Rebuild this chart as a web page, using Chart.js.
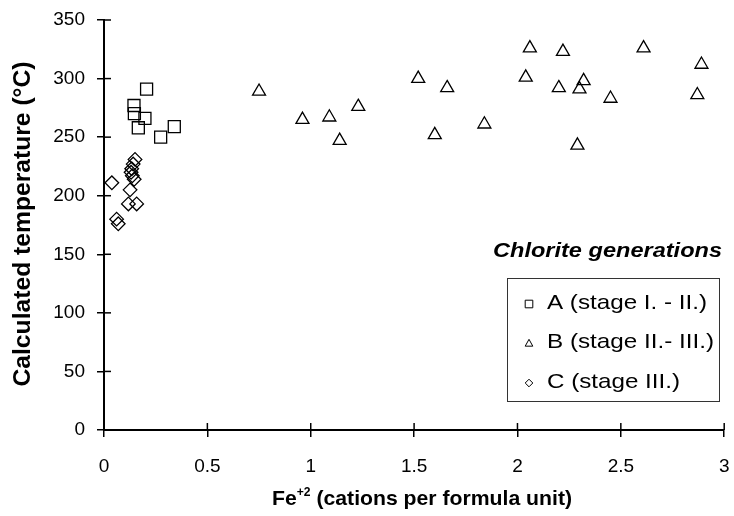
<!DOCTYPE html>
<html>
<head>
<meta charset="utf-8">
<script src="https://cdn.jsdelivr.net/npm/chart.js@4"></script>
<style>
  body { margin: 0; background: #fff; }
  #wrap { width: 734px; height: 516px; }
</style>
</head>
<body>
<div id="wrap"><canvas id="grafico" width="734" height="516"></canvas></div>
<script>
// values
const feA = [0.206, 0.145, 0.147, 0.198, 0.166, 0.274, 0.340];
const tempA = [291, 277, 270, 266, 258, 250, 259];

const feB = [0.75, 0.96, 1.09, 1.23, 1.14, 1.52, 1.66, 1.60, 1.84, 2.04,
             2.06, 2.20, 2.22, 2.29, 2.30, 2.32, 2.45, 2.61, 2.87, 2.89];
const tempB = [289, 265, 267, 276, 247, 300, 292, 252, 261, 301,
               326, 292, 323, 243, 291, 298, 283, 326, 286, 312];

const feC = [0.150, 0.141, 0.134, 0.131, 0.137, 0.146, 0.038, 0.126, 0.118, 0.158, 0.061, 0.069];
const tempC = [231, 227, 223, 220, 217, 214, 211, 205, 193, 193, 180, 176];

const seriesNames = ["A (stage I. - II.)", "B (stage II.- III.)", "C (stage III.)"];
const xTicks = [0, 0.5, 1, 1.5, 2, 2.5, 3];
const xLabels = ["0", "0.5", "1", "1.5", "2", "2.5", "3"];
const yTicks = [0, 50, 100, 150, 200, 250, 300, 350];

const FONT = "'Liberation Sans', Arial, sans-serif";

const pares = (xs, ys) => xs.map((x, i) => ({ x: x, y: ys[i] }));

// text drawn a bit wider, like the scanned original
function wideText(ctx, txt, x, y, font, width, align) {
  ctx.save();
  ctx.font = font;
  const sx = width / ctx.measureText(txt).width;
  ctx.translate(x, y);
  ctx.scale(sx, 1);
  ctx.textAlign = align;
  ctx.fillText(txt, 0, 0);
  ctx.restore();
}

function marca(ctx, tipo, x, y, r) {
  ctx.beginPath();
  if (tipo === "rect") {
    ctx.rect(x - r, y - r, 2 * r, 2 * r);
  } else if (tipo === "triangle") {
    ctx.moveTo(x, y - r * 1.1);
    ctx.lineTo(x + r, y + r * 0.7);
    ctx.lineTo(x - r, y + r * 0.7);
    ctx.closePath();
  } else {
    ctx.moveTo(x, y - r);
    ctx.lineTo(x + r, y);
    ctx.lineTo(x, y + r);
    ctx.lineTo(x - r, y);
    ctx.closePath();
  }
  ctx.stroke();
}

const sinPadding = s => { s.paddingLeft = 0; s.paddingRight = 0; s.paddingTop = 0; s.paddingBottom = 0; };

const extras = {
  id: "extras",
  afterDraw(chart) {
    const ctx = chart.ctx;
    const xs = chart.scales.x, ys = chart.scales.y;
    ctx.save();
    ctx.strokeStyle = "#000";
    ctx.fillStyle = "#000";
    ctx.lineWidth = 1.5;

    // tick marks cross the axes
    xTicks.forEach(v => {
      const px = xs.getPixelForValue(v);
      ctx.beginPath(); ctx.moveTo(px, ys.bottom); ctx.lineTo(px, ys.bottom - 7); ctx.stroke();
    });
    yTicks.forEach(v => {
      const py = ys.getPixelForValue(v);
      ctx.beginPath(); ctx.moveTo(xs.left, py); ctx.lineTo(xs.left + 7, py); ctx.stroke();
    });

    // y title
    ctx.save();
    ctx.translate(24, 224);
    ctx.rotate(-Math.PI / 2);
    ctx.textBaseline = "middle";
    wideText(ctx, "Calculated temperature (°C)", 0, 0, "bold 23px " + FONT, 325, "center");
    ctx.restore();

    // x title with superscript
    const big = "bold 21px " + FONT, small = "bold 12px " + FONT;
    const p1 = "Fe", p2 = "+2", p3 = " (cations per formula unit)";
    ctx.font = big; const w1 = ctx.measureText(p1).width, w3 = ctx.measureText(p3).width;
    ctx.font = small; const w2 = ctx.measureText(p2).width;
    const sx = 300 / (w1 + w2 + w3);
    ctx.save();
    ctx.translate(422 - 150, 505);
    ctx.scale(sx, 1);
    ctx.textAlign = "left";
    ctx.textBaseline = "alphabetic";
    ctx.font = big; ctx.fillText(p1, 0, 0);
    ctx.font = small; ctx.fillText(p2, w1, -9);
    ctx.font = big; ctx.fillText(p3, w1 + w2, 0);
    ctx.restore();

    // legend
    ctx.textBaseline = "alphabetic";
    wideText(ctx, "Chlorite generations", 722, 257, "italic bold 20px " + FONT, 229, "right");
    ctx.lineWidth = 1;
    ctx.strokeStyle = "#333";
    ctx.strokeRect(507.5, 278.5, 212, 123);
    ctx.strokeStyle = "#000";
    const tipos = ["rect", "triangle", "rectRot"];
    const anchos = [160, 167, 133];
    seriesNames.forEach((nom, i) => {
      const y = 303 + i * 39.5;
      marca(ctx, tipos[i], 529, y + 1, 3.8);
      ctx.textBaseline = "middle";
      wideText(ctx, nom, 547, y, "21px " + FONT, anchos[i], "left");
    });
    ctx.restore();
  }
};

const estilo = { borderColor: "#000", backgroundColor: "rgba(0,0,0,0)", borderWidth: 1.3 };

const eje = {
  type: "linear",
  border: { color: "#000", width: 2 },
  grid: { drawOnChartArea: false, color: "#000", lineWidth: 1.5, tickLength: 7 },
  ticks: { color: "#000", font: { family: FONT, size: 19 }, autoSkip: false, maxRotation: 0 }
};

new Chart(document.getElementById("grafico"), {
  type: "scatter",
  data: {
    datasets: [
      Object.assign({ label: seriesNames[0], data: pares(feA, tempA), pointStyle: "rect", pointRadius: 8.5 }, estilo),
      Object.assign({ label: seriesNames[1], data: pares(feB, tempB), pointStyle: "triangle", pointRadius: 7.5 }, estilo),
      Object.assign({ label: seriesNames[2], data: pares(feC, tempC), pointStyle: "rectRot", pointRadius: 6.8 }, estilo)
    ]
  },
  options: {
    responsive: false,
    animation: false,
    layout: { padding: { top: 20, right: 9, left: 0, bottom: 0 } },
    plugins: { legend: { display: false }, tooltip: { enabled: false } },
    scales: {
      x: Object.assign({}, eje, {
        min: 0, max: 3,
        afterBuildTicks: s => { s.ticks = xTicks.map(v => ({ value: v })); },
        afterFit: s => { s.height = 86; sinPadding(s); },
        ticks: Object.assign({}, eje.ticks, { padding: 18, callback: (v, i) => xLabels[i] })
      }),
      y: Object.assign({}, eje, {
        min: 0, max: 350,
        afterBuildTicks: s => { s.ticks = yTicks.map(v => ({ value: v })); },
        afterFit: s => { s.width = 104; sinPadding(s); },
        ticks: Object.assign({}, eje.ticks, { padding: 12 })
      })
    }
  },
  plugins: [extras]
});
</script>
</body>
</html>
